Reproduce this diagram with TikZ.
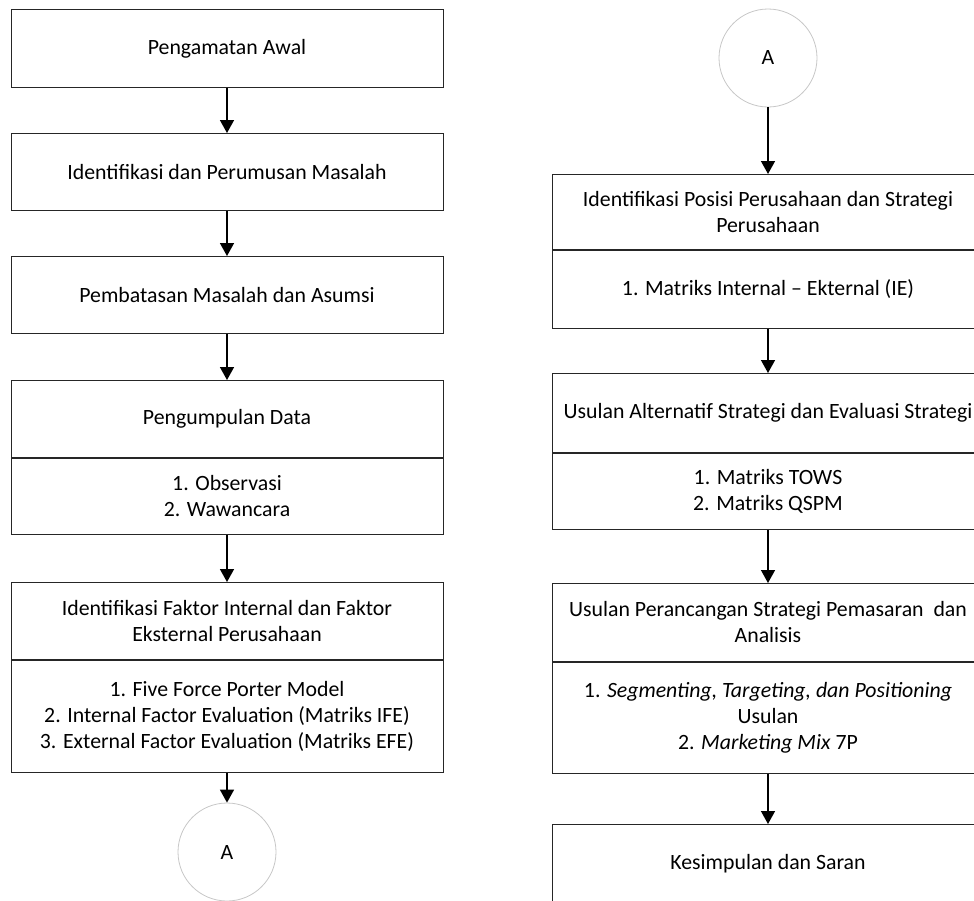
\documentclass[tikz,border=0pt]{standalone}
\usepackage{fontspec}
\setmainfont{Carlito}
\usetikzlibrary{arrows.meta,positioning}

\begin{document}
\begin{tikzpicture}[
        x=1pt, y=-1pt,
        font=\fontsize{21.8}{26}\selectfont,
        box/.style={draw=black!85, line width=1pt, minimum width=432pt,
                minimum height=77pt, inner sep=0pt, align=center},
        listbox/.style={box, below=0pt of #1},
        connector/.style={circle, draw=black!22, line width=0.8pt,
                minimum size=98pt, inner sep=0pt},
        arr/.style={-{Triangle[width=14pt,length=13pt]}, line width=1.5pt}
    ]
    \useasboundingbox (0,0) rectangle (974,900);
    \clip (0,0) rectangle (974,900);

    % Left column
    \node[box, anchor=north, minimum height=78pt] (awal) at (227,9) {Pengamatan Awal};
    \node[box, anchor=north] (rumusan) at (227,133) {Identifikasi dan Perumusan Masalah};
    \node[box, anchor=north] (batasan) at (227,256) {Pembatasan Masalah dan Asumsi};

    \node[box, anchor=north] (kumpul) at (227,380) {Pengumpulan Data};
    \node[listbox=kumpul, minimum height=76pt] (kumpulList) {1. Observasi\\2. Wawancara};

    \node[box, anchor=north] (faktor) at (227,582) {Identifikasi Faktor Internal dan Faktor\\Eksternal Perusahaan};
    \node[listbox=faktor, minimum height=112pt] (faktorList) {1. Five Force Porter Model\\2. Internal Factor Evaluation (Matriks IFE)\\3. External Factor Evaluation (Matriks EFE)};

    \node[connector] (conA) at (227,852) {A};

    \draw[arr] (awal) -- (rumusan);
    \draw[arr] (rumusan) -- (batasan);
    \draw[arr] (batasan) -- (kumpul);
    \draw[arr] (kumpulList) -- (faktor);
    \draw[arr] (faktorList) -- (conA);

    % Right column
    \node[connector] (conB) at (768,58) {A};

    \node[box, anchor=north, minimum height=75pt] (posisi) at (768,174) {Identifikasi Posisi Perusahaan dan Strategi\\Perusahaan};
    \node[listbox=posisi, minimum height=78pt] (posisiList) {1. Matriks Internal – Ekternal (IE)};

    \node[box, anchor=north, minimum height=79pt] (usulan) at (768,373) {Usulan Alternatif Strategi dan Evaluasi Strategi};
    \node[listbox=usulan, minimum height=76pt] (usulanList) {1. Matriks TOWS\\2. Matriks QSPM};

    \node[box, anchor=north, minimum height=78pt] (rancang) at (768,583) {Usulan Perancangan Strategi Pemasaran~ dan\\Analisis};
    \node[listbox=rancang, minimum height=111pt] (rancangList) {1. \textit{Segmenting, Targeting, dan Positioning}\\Usulan\\2. \textit{Marketing Mix} 7P};

    \node[box, anchor=north, minimum height=78pt] (simpulan) at (768,824) {Kesimpulan dan Saran};

    \draw[arr] (conB) -- (posisi);
    \draw[arr] (posisiList) -- (usulan);
    \draw[arr] (usulanList) -- (rancang);
    \draw[arr] (rancangList) -- (simpulan);
\end{tikzpicture}
\end{document}
